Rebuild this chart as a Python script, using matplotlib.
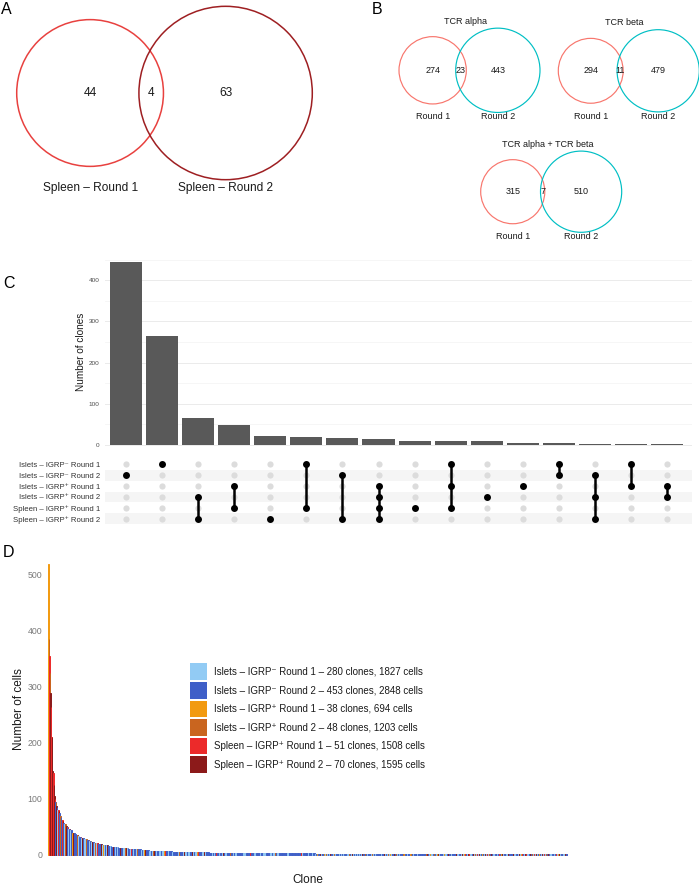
import numpy as np
import matplotlib
matplotlib.use("Agg")
import matplotlib.pyplot as plt
from matplotlib.patches import Circle, Rectangle

plt.rcParams['font.family'] = ['Liberation Sans', 'DejaVu Sans']

W, H = 699, 885

# ---- panel A: spleen venn
venn_a_counts = (44, 4, 63)
venn_a_names = ("Spleen – Round 1", "Spleen – Round 2")
venn_a_colors = ("#E8413F", "#9E1F22")

# ---- panel B: TCR chain venns
venn_b_titles = ["TCR alpha", "TCR beta", "TCR alpha + TCR beta"]
venn_b_counts = [(274, 23, 443), (294, 11, 479), (315, 7, 510)]
venn_b_names = ("Round 1", "Round 2")
venn_b_colors = ("#F8766D", "#00BFC4")

# ---- panel C: upset
set_names = ["Islets – IGRP⁻ Round 1", "Islets – IGRP⁻ Round 2",
             "Islets – IGRP⁺ Round 1", "Islets – IGRP⁺ Round 2",
             "Spleen – IGRP⁺ Round 1", "Spleen – IGRP⁺ Round 2"]
inter_members = [(1,), (0,), (3, 5), (2, 4), (5,), (0, 4), (1, 5), (2, 3, 4, 5),
                 (4,), (0, 2, 4), (3,), (2,), (0, 1), (1, 3, 5), (0, 2), (2, 3)]
inter_sizes = [443, 265, 66, 48, 23, 20, 18, 15, 10, 9, 9, 5, 4, 3, 2, 2]

# ---- panel D: clone sizes
sample_clones = [280, 453, 38, 48, 51, 70]
sample_cells = [1827, 2848, 694, 1203, 1508, 1595]
sample_colors = ["#92CBF4", "#3F5FC8", "#F29A10", "#C9651F", "#EC2A2A", "#8C1A1A"]

# (cells per clone, number of clones)
sizes_islets_neg_r1 = [(80, 1), (70, 1), (62, 1), (55, 1), (50, 1), (47, 1), (45, 1), (38, 1),
                       (36, 1), (34, 1), (32, 1), (31, 1), (30, 1), (29, 1), (28, 1), (27, 1),
                       (25, 1), (24, 1), (23, 1), (22, 1), (21, 1), (20, 1), (19, 1), (18, 2),
                       (17, 1), (16, 2), (15, 2), (14, 2), (13, 3), (12, 3), (11, 3),
                       (10, 4), (9, 4), (8, 6), (7, 8), (6, 10), (5, 14), (4, 17),
                       (3, 52), (2, 70), (1, 54)]
sizes_islets_neg_r2 = [(95, 1), (85, 1), (75, 1), (68, 1), (63, 1), (58, 1), (55, 1), (52, 1),
                       (50, 1), (47, 1), (44, 1), (40, 1), (39, 1), (37, 1), (36, 1), (35, 1),
                       (33, 1), (32, 1), (31, 1), (30, 1), (29, 1), (28, 1), (27, 1), (26, 1),
                       (25, 1), (24, 1), (23, 1), (22, 2), (21, 1), (20, 2), (19, 2), (18, 2),
                       (17, 2), (16, 3), (15, 3), (14, 3), (13, 4), (12, 4), (11, 6),
                       (10, 6), (9, 7), (8, 9), (7, 12), (6, 14), (5, 20), (4, 26),
                       (3, 76), (2, 130), (1, 92)]
sizes_islets_pos_r1 = [(520, 1), (40, 1), (25, 1), (18, 1), (12, 1), (9, 1), (7, 1), (5, 1),
                       (4, 1), (3, 2), (2, 21), (1, 6)]
sizes_islets_pos_r2 = [(386, 1), (325, 1), (95, 1), (70, 1), (55, 1), (45, 1), (35, 1), (28, 1),
                       (22, 1), (18, 1), (15, 1), (12, 1), (10, 1), (8, 1), (7, 1), (6, 1),
                       (5, 1), (4, 2), (3, 3), (2, 18), (1, 8)]
sizes_spleen_r1 = [(356, 1), (265, 1), (210, 1), (146, 1), (100, 1), (80, 1), (62, 1), (50, 1),
                   (40, 1), (32, 1), (26, 1), (21, 1), (17, 1), (14, 1), (11, 1), (9, 1),
                   (8, 1), (7, 1), (6, 1), (5, 1), (4, 2), (3, 3), (1, 26)]
sizes_spleen_r2 = [(290, 1), (210, 1), (150, 1), (125, 1), (105, 1), (88, 1), (78, 1), (60, 1),
                   (52, 1), (46, 1), (40, 1), (35, 1), (31, 1), (27, 1), (24, 1), (21, 1),
                   (19, 1), (17, 1), (15, 1), (13, 1), (12, 1), (11, 1), (10, 1), (9, 1),
                   (8, 1), (7, 1), (6, 2), (5, 2), (4, 3), (3, 4), (2, 13), (1, 20)]
sample_sizes = [sizes_islets_neg_r1, sizes_islets_neg_r2, sizes_islets_pos_r1,
                sizes_islets_pos_r2, sizes_spleen_r1, sizes_spleen_r2]


def box(x0, y0, x1, y1):
    # axes placed in pixel coordinates (top-left origin)
    return fig.add_axes([x0 / W, 1 - y1 / H, (x1 - x0) / W, (y1 - y0) / H])


def lens_area(d, r1, r2):
    if d >= r1 + r2:
        return 0.0
    if d <= abs(r1 - r2):
        return np.pi * min(r1, r2) ** 2
    a1 = r1 ** 2 * np.arccos((d * d + r1 * r1 - r2 * r2) / (2 * d * r1))
    a2 = r2 ** 2 * np.arccos((d * d + r2 * r2 - r1 * r1) / (2 * d * r2))
    k = 0.5 * np.sqrt((-d + r1 + r2) * (d + r1 - r2) * (d - r1 + r2) * (d + r1 + r2))
    return a1 + a2 - k


def venn2(ax, counts, names, colors, left, width, cy, fs, lw, name_gap, title=None, title_x=None):
    only1, both, only2 = counts
    r1 = np.sqrt((only1 + both) / np.pi)
    r2 = np.sqrt((only2 + both) / np.pi)
    lo, hi = abs(r1 - r2), r1 + r2
    for _ in range(60):
        mid = (lo + hi) / 2
        if lens_area(mid, r1, r2) > both:
            lo = mid
        else:
            hi = mid
    d = (lo + hi) / 2
    s = width / (r1 + d + r2)
    r1, r2, d = r1 * s, r2 * s, d * s
    c1 = left + r1
    c2 = c1 + d
    ax.add_patch(Circle((c1, cy), r1, fill=False, ec=colors[0], lw=lw))
    ax.add_patch(Circle((c2, cy), r2, fill=False, ec=colors[1], lw=lw))
    kw = dict(ha='center', va='center', fontsize=fs, color='#1a1a1a')
    ax.text(c1, cy, str(only1), **kw)
    ax.text((c2 - r2 + c1 + r1) / 2, cy, str(both), **kw)
    ax.text(c2, cy, str(only2), **kw)
    yb = cy + max(r1, r2) + name_gap
    ax.text(c1, yb, names[0], **kw)
    ax.text(c2, yb, names[1], **kw)
    if title:
        ax.text(title_x, cy - max(r1, r2) - 7, title, **kw)


fig = plt.figure(figsize=(W / 100, H / 100), dpi=100)

# ---------------- panel C: intersection bars
xl = (-0.582, 15.69)
ax_bar = box(105, 250, 692, 447)
ax_bar.bar(range(len(inter_sizes)), inter_sizes, width=0.89, color='#595959')
ax_bar.set_xlim(*xl)
ax_bar.set_ylim(-4.85, 473.3)
ax_bar.set_yticks([0, 100, 200, 300, 400])
ax_bar.set_yticks(np.arange(50, 500, 100), minor=True)
ax_bar.grid(True, which='major', axis='y', color='#EBEBEB', lw=0.7)
ax_bar.grid(True, which='minor', axis='y', color='#F3F3F3', lw=0.5)
ax_bar.set_axisbelow(True)
ax_bar.set_xticks([])
ax_bar.tick_params(which='both', length=0, labelsize=4.6, labelcolor='#4D4D4D', pad=4)
for sp in ax_bar.spines.values():
    sp.set_visible(False)
ax_bar.set_ylabel("Number of clones", fontsize=7.2, color='#1a1a1a')
ax_bar.yaxis.set_label_coords(-0.032, 0.485)

# ---------------- panel C: membership matrix
ax_m = box(105, 458.9, 692, 524.1)
ax_m.set_xlim(*xl)
ax_m.set_ylim(len(set_names) - 0.5, -0.5)
for j in range(1, len(set_names), 2):
    ax_m.axhspan(j - 0.5, j + 0.5, color='#F5F5F5', lw=0)
gx, gy = np.meshgrid(np.arange(len(inter_sizes)), np.arange(len(set_names)))
ax_m.scatter(gx.ravel(), gy.ravel(), s=20, color='#DCDCDC', lw=0, zorder=2)
for i, mem in enumerate(inter_members):
    if len(mem) > 1:
        ax_m.plot([i, i], [min(mem), max(mem)], color='black', lw=1.8, zorder=3)
    ax_m.scatter([i] * len(mem), mem, s=25, color='black', lw=0, zorder=4)
ax_m.set_xticks([])
ax_m.set_yticks(range(len(set_names)))
ax_m.set_yticklabels(set_names)
ax_m.tick_params(length=0, labelsize=5.6, labelcolor='#333333', pad=3.6)
for sp in ax_m.spines.values():
    sp.set_visible(False)

# ---------------- panel D: clone size bars
vals, grp, frac = [], [], []
for g, pairs in enumerate(sample_sizes):
    for v, n in pairs:
        vals += [v] * n
        grp += [g] * n
        frac += list((np.arange(n) + 0.5) / n)
vals, grp, frac = np.array(vals), np.array(grp), np.array(frac)
order = np.lexsort((grp, frac, -vals))
bar_cols = np.array(sample_colors)[grp[order]]
ax_d = box(48, 563, 568, 856)
ax_d.bar(np.arange(len(vals)), vals[order], width=1.0,
         color=bar_cols, edgecolor=bar_cols, lw=0.7)
ax_d.set_xlim(-0.5, len(vals) - 0.5)
ax_d.set_ylim(-1.8, 521.4)
ax_d.set_yticks(np.arange(0, 501, 100))
ax_d.set_xticks([])
ax_d.tick_params(length=0, labelsize=6.3, labelcolor='#7A7A7A', pad=4)
for sp in ax_d.spines.values():
    sp.set_visible(False)
ax_d.set_ylabel("Number of cells", fontsize=8.5, color='#1a1a1a')
ax_d.yaxis.set_label_coords(-0.044, 0.5)
ax_d.set_xlabel("Clone", fontsize=8.5, color='#1a1a1a')
ax_d.xaxis.set_label_coords(0.5, -0.062)

# ---------------- overlay in pixel space: venns, legend, panel letters
ov = fig.add_axes([0, 0, 1, 1])
ov.set_xlim(0, W)
ov.set_ylim(H, 0)
ov.patch.set_alpha(0)
ov.axis('off')

venn2(ov, venn_a_counts, venn_a_names, venn_a_colors, 16.7, 295.6, 93, 8.6, 1.1, 8.5)
b_layout = [(399, 70.3, 465.3), (558.3, 70.8, 624.3), (480.7, 191.7, 547.7)]
for (left, cy, tx), cnt, ttl in zip(b_layout, venn_b_counts, venn_b_titles):
    venn2(ov, cnt, venn_b_names, venn_b_colors, left, 141, cy, 6.5, 0.85, 4.5, ttl, tx)

for i, (nm, nc, ncell, col) in enumerate(zip(set_names, sample_clones, sample_cells, sample_colors)):
    yc = 671.7 + 18.6 * i
    ov.add_patch(Rectangle((189.5, yc - 8.3), 17.5, 16.6, color=col, lw=0))
    ov.text(213.7, yc, f"{nm} – {nc} clones, {ncell} cells", ha='left', va='center',
            fontsize=7, color='#1a1a1a')

for letter, x, y in [("A", 1, 2), ("B", 372, 2), ("C", 3, 276), ("D", 3, 545)]:
    ov.text(x, y, letter, ha='left', va='top', fontsize=11.5, color='black')

fig.savefig("out.png", dpi=100)
